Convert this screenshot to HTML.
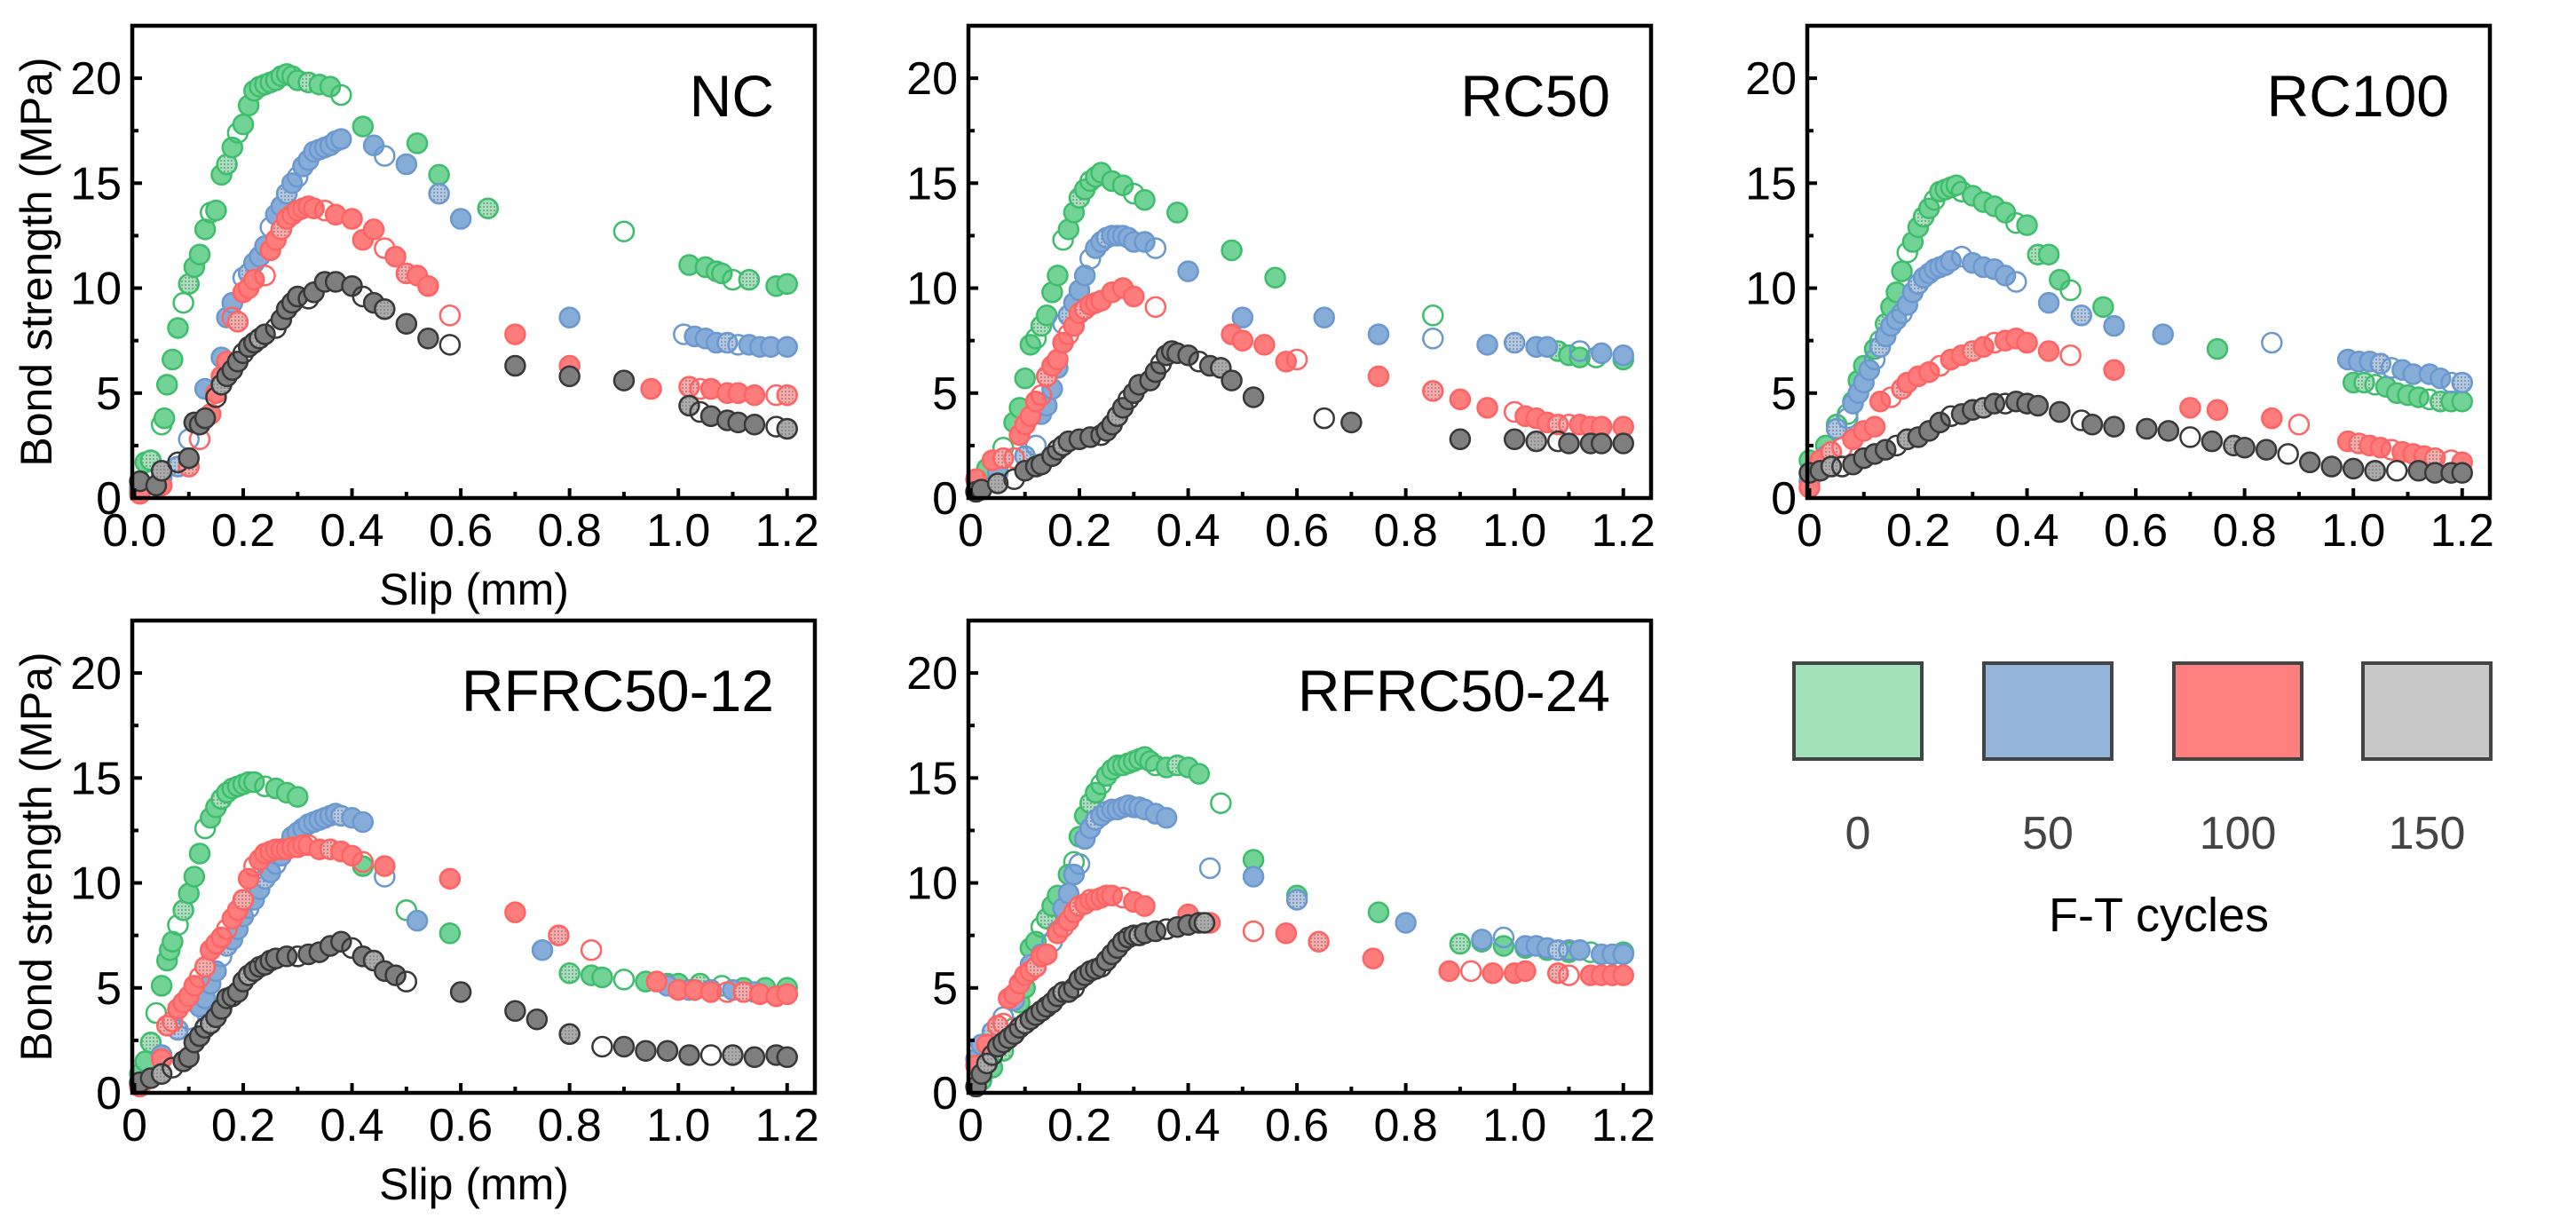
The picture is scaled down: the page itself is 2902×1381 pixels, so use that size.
<!DOCTYPE html>
<html><head><meta charset="utf-8"><style>
html,body{margin:0;padding:0;background:#fff;}
svg{display:block;font-family:"Liberation Sans",Arial,sans-serif;}
</style></head>
<body>
<svg id="fig" width="2902" height="1381" viewBox="0 0 2902 1381" xmlns="http://www.w3.org/2000/svg">
<defs>
<pattern id="dots" width="4" height="4" patternUnits="userSpaceOnUse"><rect width="4" height="4" fill="#ffffff" fill-opacity="0.35"/><circle cx="1" cy="1" r="0.9" fill="#777"/></pattern>
</defs>
<g id="legend">
<rect x="2021" y="747" width="144" height="108" fill="#a0e3b8" stroke="#444" stroke-width="4"/>
<rect x="2235" y="747" width="144" height="108" fill="#94b6da" stroke="#444" stroke-width="4"/>
<rect x="2449" y="747" width="144" height="108" fill="#ff7f7f" stroke="#444" stroke-width="4"/>
<rect x="2662" y="747" width="144" height="108" fill="#c8c8c8" stroke="#444" stroke-width="4"/>
<text x="2093" y="956" font-size="52" fill="#444" text-anchor="middle">0</text>
<text x="2307" y="956" font-size="52" fill="#444" text-anchor="middle">50</text>
<text x="2521" y="956" font-size="52" fill="#444" text-anchor="middle">100</text>
<text x="2734" y="956" font-size="52" fill="#444" text-anchor="middle">150</text>
<text x="2432" y="1049" font-size="54" fill="#000" text-anchor="middle">F-T cycles</text>
</g>
</svg>
<script>
// ---- data (slip mm, bond strength MPa) ----
const ncG_x=[0.01,0.02,0.03,0.05,0.055,0.06,0.07,0.08,0.09,0.1,0.11,0.12,0.13,0.14,0.15,0.16,0.17,0.18,0.19,0.2,0.21,0.22,0.23,0.24,0.25,0.26,0.27,0.28,0.29,0.3,0.32,0.34,0.36,0.38,0.42,0.52,0.56,0.65,0.9,1.02,1.05,1.07,1.08,1.1,1.13,1.18,1.2];
const ncG_y=[0.3,1.7,1.8,3.5,3.8,5.4,6.6,8.1,9.3,10.2,11.0,11.6,12.8,13.6,13.7,15.4,15.9,16.7,17.4,17.8,18.7,19.4,19.6,19.7,19.8,19.9,20.1,20.2,20.1,19.9,19.8,19.7,19.6,19.2,17.7,16.9,15.4,13.8,12.7,11.1,11.0,10.8,10.7,10.4,10.4,10.1,10.2];
const ncB_x=[0.01,0.05,0.08,0.1,0.13,0.16,0.17,0.18,0.2,0.21,0.22,0.23,0.24,0.25,0.26,0.27,0.28,0.29,0.3,0.31,0.32,0.33,0.34,0.35,0.36,0.37,0.38,0.44,0.46,0.5,0.56,0.6,0.8,1.01,1.03,1.05,1.07,1.09,1.11,1.13,1.15,1.17,1.2];
const ncB_y=[0.5,1.0,1.5,2.8,5.2,6.7,8.6,9.3,10.5,10.7,11.2,11.5,12.0,12.9,13.5,13.9,14.5,15.0,15.3,15.8,16.1,16.5,16.6,16.7,16.8,17.0,17.1,16.8,16.3,15.9,14.5,13.3,8.6,7.8,7.7,7.6,7.4,7.4,7.3,7.3,7.2,7.2,7.2];
const ncR_x=[0.01,0.05,0.1,0.12,0.14,0.15,0.16,0.17,0.18,0.19,0.2,0.21,0.22,0.24,0.25,0.26,0.27,0.28,0.29,0.3,0.31,0.32,0.33,0.35,0.37,0.4,0.42,0.44,0.46,0.48,0.5,0.52,0.54,0.58,0.7,0.8,0.95,1.02,1.04,1.06,1.09,1.11,1.14,1.18,1.2];
const ncR_y=[0.2,0.6,1.5,2.8,4.0,5.0,5.8,6.5,8.6,8.4,9.8,10.0,10.4,10.6,11.8,12.3,12.8,13.3,13.5,13.7,13.8,13.9,13.8,13.7,13.5,13.3,12.3,12.8,11.9,11.5,10.7,10.6,10.1,8.7,7.8,6.3,5.2,5.3,5.2,5.2,5.0,5.0,4.9,4.9,4.9];
const ncK_x=[0.01,0.04,0.05,0.08,0.1,0.11,0.12,0.13,0.15,0.16,0.17,0.18,0.19,0.2,0.21,0.22,0.23,0.24,0.26,0.27,0.28,0.29,0.3,0.32,0.33,0.35,0.37,0.4,0.42,0.44,0.46,0.5,0.54,0.58,0.7,0.8,0.9,1.02,1.04,1.06,1.09,1.11,1.14,1.18,1.2];
const ncK_y=[0.8,0.6,1.3,1.7,1.9,3.6,3.5,3.8,4.8,5.4,5.8,6.1,6.5,6.9,7.2,7.4,7.6,7.8,8.1,8.5,9.0,9.3,9.6,9.5,9.8,10.3,10.3,10.1,9.6,9.3,9.0,8.3,7.6,7.3,6.3,5.8,5.6,4.4,4.1,3.9,3.7,3.6,3.5,3.4,3.3];

const r50G_x=[0.01,0.03,0.05,0.06,0.08,0.09,0.1,0.11,0.12,0.13,0.14,0.15,0.16,0.17,0.18,0.19,0.2,0.21,0.22,0.23,0.24,0.26,0.28,0.3,0.32,0.38,0.48,0.56,0.85,1.04,1.08,1.1,1.12,1.15,1.2];
const r50G_y=[0.3,1.4,1.5,2.4,3.6,4.3,5.7,7.3,7.6,8.2,8.7,9.8,10.6,12.3,12.8,13.6,14.3,14.7,15.1,15.3,15.5,15.1,14.9,14.5,14.2,13.6,11.8,10.5,8.7,7.2,7.0,6.8,6.7,6.7,6.6];
const r50B_x=[0.01,0.05,0.1,0.12,0.13,0.14,0.15,0.16,0.17,0.18,0.19,0.2,0.21,0.22,0.23,0.24,0.25,0.26,0.27,0.28,0.29,0.3,0.32,0.34,0.4,0.5,0.65,0.75,0.85,0.95,1.0,1.04,1.06,1.12,1.16,1.2];
const r50B_y=[0.3,1.2,2.0,2.5,4.0,4.4,5.2,6.2,8.3,8.7,9.3,9.9,10.6,11.4,11.9,12.2,12.4,12.5,12.5,12.5,12.4,12.2,12.2,11.9,10.8,8.6,8.6,7.8,7.6,7.3,7.4,7.2,7.2,7.0,6.9,6.8];
const r50R_x=[0.01,0.04,0.06,0.08,0.09,0.1,0.11,0.12,0.13,0.14,0.15,0.16,0.17,0.18,0.19,0.2,0.21,0.22,0.23,0.24,0.26,0.28,0.3,0.34,0.48,0.5,0.54,0.58,0.6,0.75,0.85,0.9,0.95,1.0,1.02,1.04,1.06,1.08,1.1,1.12,1.14,1.16,1.2];
const r50R_y=[0.9,1.8,1.9,1.9,3.0,3.5,3.9,4.6,4.9,5.8,6.3,6.6,7.4,7.8,8.2,8.8,9.0,9.2,9.3,9.4,9.8,10.0,9.6,9.1,7.8,7.5,7.3,6.5,6.6,5.8,5.1,4.7,4.3,4.1,3.9,3.8,3.6,3.5,3.5,3.5,3.4,3.4,3.4];
const r50K_x=[0.01,0.02,0.05,0.08,0.1,0.12,0.13,0.15,0.16,0.17,0.18,0.2,0.22,0.24,0.25,0.26,0.27,0.28,0.29,0.3,0.31,0.33,0.34,0.35,0.36,0.37,0.38,0.4,0.42,0.44,0.46,0.48,0.52,0.65,0.7,0.9,1.0,1.04,1.08,1.1,1.14,1.16,1.2];
const r50K_y=[0.3,0.4,0.7,0.9,1.3,1.5,1.6,2.0,2.3,2.5,2.7,2.8,2.9,3.0,3.2,3.5,3.9,4.3,4.7,5.0,5.4,5.6,6.0,6.4,6.8,7.0,6.9,6.8,6.5,6.3,6.2,5.6,4.8,3.8,3.6,2.8,2.8,2.7,2.7,2.6,2.6,2.6,2.6];

const r100G_x=[0.0,0.03,0.05,0.07,0.08,0.09,0.1,0.12,0.13,0.14,0.15,0.16,0.17,0.18,0.19,0.2,0.21,0.22,0.23,0.24,0.25,0.26,0.27,0.28,0.3,0.32,0.34,0.36,0.38,0.4,0.42,0.44,0.46,0.48,0.54,0.75,1.0,1.02,1.04,1.06,1.08,1.1,1.12,1.14,1.16,1.18,1.2];
const r100G_y=[1.8,2.5,3.5,4.0,4.6,5.6,6.3,7.1,7.5,8.3,9.1,9.8,10.8,11.7,12.2,12.9,13.4,13.8,14.2,14.6,14.7,14.8,14.9,14.6,14.4,14.1,13.9,13.6,13.1,13.0,11.6,11.6,10.4,9.9,9.1,7.1,5.5,5.5,5.4,5.3,5.0,4.9,4.8,4.7,4.6,4.6,4.6];
const r100B_x=[0.0,0.03,0.05,0.07,0.08,0.09,0.1,0.11,0.12,0.13,0.14,0.15,0.16,0.17,0.18,0.19,0.2,0.21,0.22,0.23,0.24,0.25,0.26,0.28,0.3,0.32,0.34,0.36,0.38,0.44,0.5,0.56,0.65,0.85,0.99,1.01,1.03,1.05,1.07,1.09,1.11,1.14,1.16,1.18,1.2];
const r100B_y=[0.8,2.0,3.3,3.8,4.5,5.0,5.5,6.1,6.6,7.2,7.7,8.2,8.5,8.8,9.2,9.8,10.2,10.5,10.7,10.9,11.0,11.1,11.3,11.5,11.2,11.0,10.9,10.6,10.3,9.3,8.7,8.2,7.8,7.4,6.6,6.5,6.5,6.4,6.2,6.1,5.9,5.9,5.7,5.5,5.5];
const r100R_x=[0.0,0.02,0.04,0.06,0.08,0.1,0.12,0.13,0.15,0.17,0.18,0.2,0.22,0.24,0.26,0.28,0.3,0.32,0.34,0.36,0.38,0.4,0.44,0.48,0.56,0.7,0.75,0.85,0.9,0.99,1.01,1.03,1.05,1.07,1.09,1.11,1.13,1.15,1.18,1.2];
const r100R_y=[0.5,1.8,2.2,2.4,2.8,3.2,3.4,4.6,4.8,5.2,5.5,5.8,6.0,6.3,6.6,6.8,7.0,7.2,7.4,7.5,7.6,7.4,7.0,6.8,6.1,4.3,4.2,3.8,3.5,2.7,2.6,2.5,2.4,2.3,2.2,2.1,2.0,1.9,1.8,1.7];
const r100K_x=[0.0,0.02,0.04,0.06,0.08,0.1,0.12,0.14,0.16,0.18,0.2,0.22,0.24,0.26,0.28,0.3,0.32,0.34,0.36,0.38,0.4,0.42,0.46,0.5,0.52,0.56,0.62,0.66,0.7,0.74,0.78,0.8,0.84,0.88,0.92,0.96,1.0,1.04,1.08,1.12,1.15,1.18,1.2];
const r100K_y=[1.2,1.3,1.5,1.5,1.6,1.9,2.1,2.3,2.5,2.8,2.9,3.2,3.6,3.9,4.0,4.2,4.3,4.5,4.5,4.6,4.5,4.4,4.1,3.7,3.5,3.4,3.3,3.2,2.9,2.7,2.5,2.4,2.3,2.1,1.7,1.5,1.4,1.3,1.3,1.3,1.2,1.2,1.2];

const f12G_x=[0.01,0.02,0.03,0.04,0.05,0.06,0.065,0.07,0.08,0.09,0.1,0.11,0.12,0.13,0.14,0.15,0.16,0.17,0.18,0.19,0.2,0.21,0.22,0.24,0.26,0.28,0.3,0.42,0.5,0.58,0.8,0.84,0.86,0.9,0.94,0.98,1.0,1.04,1.08,1.12,1.16,1.2];
const f12G_y=[0.9,1.5,2.4,3.8,5.1,6.3,6.8,7.2,8.0,8.7,9.5,10.3,11.4,12.6,13.1,13.6,14.0,14.3,14.5,14.6,14.7,14.8,14.8,14.6,14.5,14.3,14.1,10.8,8.7,7.6,5.7,5.6,5.5,5.4,5.3,5.2,5.2,5.2,5.1,5.0,5.0,5.0];
const f12B_x=[0.01,0.05,0.08,0.1,0.12,0.13,0.14,0.15,0.16,0.17,0.18,0.19,0.2,0.21,0.22,0.23,0.24,0.25,0.26,0.27,0.28,0.29,0.3,0.31,0.32,0.33,0.34,0.35,0.36,0.37,0.38,0.4,0.42,0.46,0.52,0.75,0.98,1.02,1.06,1.1,1.14,1.2];
const f12B_y=[0.4,1.8,3.0,3.5,4.1,4.5,5.2,5.8,6.5,7.0,7.3,7.8,8.4,8.8,9.2,9.7,10.2,10.5,10.9,11.3,11.7,12.2,12.4,12.6,12.8,12.9,13.0,13.1,13.2,13.3,13.2,13.1,12.9,10.3,8.2,6.8,5.1,4.9,4.9,4.9,4.8,4.7];
const f12R_x=[0.01,0.05,0.06,0.07,0.08,0.09,0.1,0.11,0.12,0.13,0.14,0.15,0.16,0.17,0.18,0.19,0.2,0.21,0.22,0.23,0.24,0.25,0.26,0.27,0.28,0.29,0.3,0.31,0.32,0.34,0.36,0.38,0.4,0.42,0.46,0.58,0.7,0.78,0.84,0.96,1.0,1.03,1.06,1.09,1.12,1.15,1.18,1.2];
const f12R_y=[0.3,1.6,3.2,3.4,4.0,4.3,4.6,5.1,5.5,6.0,6.8,7.1,7.4,7.8,8.3,8.7,9.2,10.2,10.8,11.1,11.4,11.5,11.6,11.6,11.6,11.7,11.7,11.8,11.8,11.6,11.6,11.5,11.3,11.0,10.8,10.2,8.6,7.5,6.8,5.3,4.9,4.9,4.8,4.8,4.8,4.7,4.6,4.7];
const f12K_x=[0.01,0.03,0.05,0.07,0.09,0.1,0.11,0.12,0.13,0.14,0.15,0.16,0.17,0.18,0.19,0.2,0.21,0.22,0.23,0.24,0.25,0.26,0.28,0.3,0.32,0.34,0.36,0.38,0.4,0.42,0.44,0.46,0.48,0.5,0.6,0.7,0.74,0.8,0.86,0.9,0.94,0.98,1.02,1.06,1.1,1.14,1.18,1.2];
const f12K_y=[0.5,0.7,0.9,1.2,1.5,1.7,2.4,2.7,3.1,3.3,3.6,4.0,4.5,4.6,4.8,5.3,5.6,5.8,6.0,6.1,6.3,6.4,6.5,6.5,6.6,6.7,7.0,7.2,6.9,6.5,6.3,5.8,5.6,5.3,4.8,3.9,3.5,2.8,2.2,2.2,2.0,2.0,1.8,1.8,1.8,1.7,1.8,1.7];

const f24G_x=[0.02,0.04,0.06,0.08,0.09,0.1,0.11,0.12,0.13,0.14,0.15,0.16,0.18,0.19,0.2,0.21,0.22,0.23,0.24,0.25,0.26,0.27,0.28,0.29,0.3,0.31,0.32,0.33,0.34,0.36,0.38,0.4,0.42,0.46,0.52,0.6,0.75,0.9,0.94,0.98,1.02,1.06,1.1,1.14,1.2];
const f24G_y=[0.6,1.2,2.0,3.1,4.3,5.0,6.9,7.2,7.9,8.3,8.9,9.4,10.4,11.0,12.2,13.2,13.8,14.3,14.7,15.1,15.4,15.6,15.6,15.7,15.8,15.9,16.0,15.8,15.6,15.5,15.6,15.5,15.2,13.8,11.1,9.4,8.6,7.1,7.2,7.0,6.9,6.8,6.7,6.7,6.7];
const f24B_x=[0.01,0.02,0.04,0.06,0.08,0.1,0.11,0.13,0.15,0.16,0.17,0.18,0.19,0.2,0.21,0.22,0.23,0.24,0.25,0.26,0.27,0.28,0.29,0.3,0.31,0.32,0.34,0.36,0.44,0.52,0.6,0.8,0.94,0.98,1.02,1.04,1.06,1.08,1.1,1.12,1.16,1.18,1.2];
const f24B_y=[1.6,2.3,2.9,3.6,4.4,5.6,6.1,6.6,7.2,7.7,8.8,9.5,10.4,10.9,12.1,12.6,13.0,13.2,13.4,13.5,13.5,13.6,13.7,13.6,13.6,13.5,13.3,13.1,10.7,10.3,9.2,8.1,7.3,7.4,7.0,7.0,6.9,6.8,6.8,6.8,6.6,6.6,6.6];
const f24R_x=[0.01,0.03,0.05,0.06,0.07,0.08,0.09,0.1,0.11,0.12,0.13,0.14,0.16,0.17,0.18,0.19,0.2,0.21,0.22,0.23,0.24,0.25,0.26,0.28,0.3,0.32,0.4,0.44,0.52,0.58,0.64,0.74,0.88,0.92,0.96,1.0,1.02,1.08,1.1,1.14,1.16,1.18,1.2];
const f24R_y=[1.3,2.3,3.2,3.3,4.5,4.7,5.2,5.6,5.8,6.0,6.5,6.6,7.6,7.9,8.2,8.6,8.9,9.0,9.2,9.2,9.3,9.4,9.4,9.3,9.1,8.9,8.5,8.1,7.7,7.6,7.2,6.4,5.8,5.8,5.7,5.7,5.8,5.7,5.6,5.6,5.6,5.6,5.6];
const f24K_x=[0.01,0.02,0.03,0.04,0.05,0.06,0.07,0.08,0.09,0.1,0.11,0.12,0.13,0.14,0.15,0.16,0.17,0.18,0.19,0.2,0.21,0.22,0.23,0.24,0.25,0.26,0.27,0.28,0.29,0.3,0.31,0.32,0.34,0.36,0.38,0.4,0.42,0.43];
const f24K_y=[0.3,0.9,1.4,1.8,2.2,2.4,2.6,2.8,3.1,3.3,3.5,3.7,3.9,4.1,4.3,4.6,4.8,4.8,5.0,5.4,5.6,5.8,5.9,6.0,6.3,6.6,6.9,7.2,7.4,7.5,7.5,7.6,7.7,7.8,7.9,8.0,8.1,8.1];

const xTicksNC=["0.0","0.2","0.4","0.6","0.8","1.0","1.2"];
const xTicksOther=["0","0.2","0.4","0.6","0.8","1.0","1.2"];
const yTicks=["0","5","10","15","20"];

const panels=[
 {name:"NC",left:149,top:29,xt:xTicksNC,xlabel:true,ylabel:true,series:[[ncG_x,ncG_y],[ncB_x,ncB_y],[ncR_x,ncR_y],[ncK_x,ncK_y]]},
 {name:"RC50",left:1091,top:29,xt:xTicksOther,xlabel:false,ylabel:false,series:[[r50G_x,r50G_y],[r50B_x,r50B_y],[r50R_x,r50R_y],[r50K_x,r50K_y]]},
 {name:"RC100",left:2036,top:29,xt:xTicksOther,xlabel:false,ylabel:false,series:[[r100G_x,r100G_y],[r100B_x,r100B_y],[r100R_x,r100R_y],[r100K_x,r100K_y]]},
 {name:"RFRC50-12",left:149,top:699,xt:xTicksOther,xlabel:true,ylabel:true,series:[[f12G_x,f12G_y],[f12B_x,f12B_y],[f12R_x,f12R_y],[f12K_x,f12K_y]]},
 {name:"RFRC50-24",left:1091,top:699,xt:xTicksOther,xlabel:false,ylabel:false,series:[[f24G_x,f24G_y],[f24B_x,f24B_y],[f24R_x,f24R_y],[f24K_x,f24K_y]]}
];
const seriesNames=["0-cycles","50-cycles","100-cycles","150-cycles"];
const fills=["#72d396","#86acd8","#ff7c7c","#7e7e7e"];
const strokes=["#3ebd6c","#6a98cf","#ff6464","#383838"];

const NS="http://www.w3.org/2000/svg";
const svg=document.getElementById('fig');
const W=769,H=532,XMIN=-0.004,XMAX=1.251,YMIN=0,YMAX=22.5;
function mk(tag,attrs,parent){const e=document.createElementNS(NS,tag);for(const k in attrs)e.setAttribute(k,attrs[k]);parent.appendChild(e);return e;}

panels.forEach(p=>{
  const sx=v=>p.left+(v-XMIN)/(XMAX-XMIN)*W;
  const sy=v=>p.top+H-(v-YMIN)/(YMAX-YMIN)*H;
  const g=mk('g',{},svg);
  
  
  p.series.forEach((s,si)=>{
    const sg=mk('g',{},g);
    
    
    s[0].forEach((xv,i)=>{
      const mode=(i%5===3)?'open':((i%7===2)?'hatch':'fill');
      const c=mk('circle',{cx:sx(xv),cy:sy(s[1][i]),r:11,'stroke-width':2.5,stroke:strokes[si],fill:mode==='open'?'none':fills[si]},sg);
      
      
      if(mode==='hatch'){const h=mk('circle',{cx:sx(xv),cy:sy(s[1][i]),r:9.5,fill:'url(#dots)'},sg);
        
        }
    });
  });
  const fr=mk('rect',{x:p.left,y:p.top,width:W,height:H,fill:'none',stroke:'#000','stroke-width':4.5},g);
  
  
  for(let k=0;k<=12;k++){
    const v=k*0.1,x=sx(v),len=(k%2===0)?11:7;
    const t=mk('line',{x1:x,x2:x,y1:p.top+H,y2:p.top+H-len,stroke:'#000','stroke-width':4},g);
    
    
  }
  p.xt.forEach((lab,i)=>{
    const t=mk('text',{x:sx(i*0.2),y:p.top+H+54,'font-size':52,'text-anchor':'middle',fill:'#000'},g);
    t.textContent=lab;
    
    
  });
  for(let k=0;k<=8;k++){
    const v=k*2.5,y=sy(v),len=(k%2===0)?11:7;
    const t=mk('line',{x1:p.left,x2:p.left+len,y1:y,y2:y,stroke:'#000','stroke-width':4},g);
    
    
  }
  yTicks.forEach((lab,i)=>{
    const t=mk('text',{x:p.left-12,y:sy(i*5)+18,'font-size':52,'text-anchor':'end',fill:'#000'},g);
    t.textContent=lab;
    
    
  });
  const tt=mk('text',{x:p.left+W-46,y:p.top+102,'font-size':66,'text-anchor':'end',fill:'#000'},g);
  tt.textContent=p.name;
  
  
  if(p.xlabel){
    const xl=mk('text',{x:p.left+385,y:p.top+H+120,'font-size':50,'text-anchor':'middle',fill:'#000'},g);
    xl.textContent='Slip (mm)';
    
    
  }
  if(p.ylabel){
    const cy=p.top+H/2;
    const yl=mk('text',{x:0,y:0,transform:`translate(58,${cy}) rotate(-90)`,'font-size':50,'text-anchor':'middle',fill:'#000'},g);
    yl.textContent='Bond strength (MPa)';
    
    
  }
});
</script>
</body></html>
